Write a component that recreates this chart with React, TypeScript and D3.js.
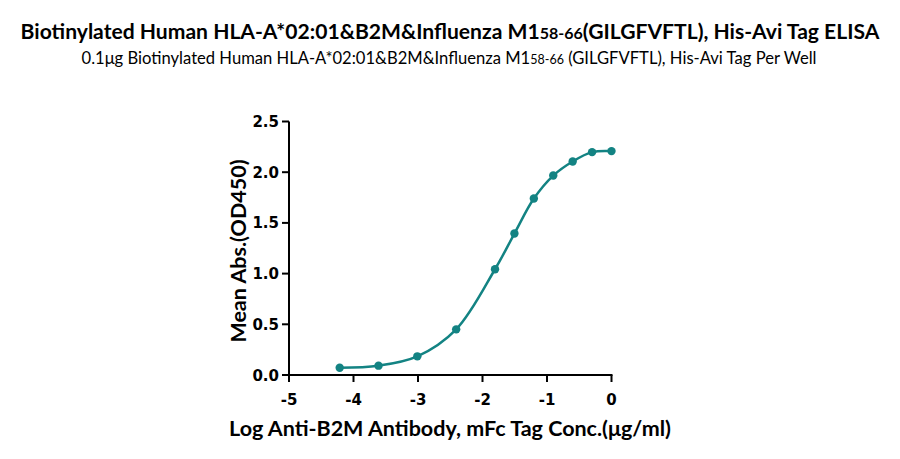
import React from "react";
import * as d3 from "d3";

const logConc = [-4.214, -3.612, -3.01, -2.408, -1.806, -1.505, -1.204, -0.903, -0.602, -0.301, 0];
const meanAbs = [0.072, 0.092, 0.184, 0.45, 1.043, 1.395, 1.74, 1.967, 2.106, 2.198, 2.208];
const xTicks = [-5, -4, -3, -2, -1, 0];
const yTicks = [0, 0.5, 1.0, 1.5, 2.0, 2.5];

const W = 900;
const H = 459;
const color = "#138383";

export default function App() {
  const x = d3.scaleLinear().domain([-5, 0]).range([289, 611.5]);
  const y = d3.scaleLinear().domain([0, 2.5]).range([375, 121.5]);
  const pts = logConc.map((v, i) => [x(v), y(meanAbs[i])] as [number, number]);
  const line = d3.line().curve(d3.curveCatmullRom.alpha(0.5))(pts) || "";
  const font = "Lato, 'Open Sans', sans-serif";
  const tickFont = "'DejaVu Sans', sans-serif";
  return (
    <svg width={W} height={H} style={{ position: "absolute", left: 0, top: 0, background: "#fff" }}>
      <text x={450} y={39} textAnchor="middle" fontFamily={font} fontWeight="bold" fontSize={21.1} fill="#000">
        Biotinylated Human HLA-A*02:01&amp;B2M&amp;Influenza M1
        <tspan fontSize={16}>58-66</tspan>(GILGFVFTL), His-Avi Tag ELISA
      </text>
      <text x={449} y={64} textAnchor="middle" fontFamily={font} fontSize={16.6} fill="#000">
        0.1μg Biotinylated Human HLA-A*02:01&amp;B2M&amp;Influenza M1
        <tspan fontSize={12.5}>58-66</tspan> (GILGFVFTL), His-Avi Tag Per Well
      </text>
      {/* axes */}
      <line x1={289} x2={289} y1={y(2.5)} y2={y(0)} stroke="#000" strokeWidth={2} />
      <line x1={288} x2={x(0) + 1} y1={y(0)} y2={y(0)} stroke="#000" strokeWidth={2} />
      {yTicks.map((t) => (
        <g key={"y" + t}>
          <line x1={282} x2={289} y1={y(t)} y2={y(t)} stroke="#000" strokeWidth={2} />
          <text x={279} y={y(t) + 5.5} textAnchor="end" fontFamily={tickFont} fontWeight="bold" fontSize={15}>
            {t.toFixed(1)}
          </text>
        </g>
      ))}
      {xTicks.map((t) => (
        <g key={"x" + t}>
          <line x1={x(t)} x2={x(t)} y1={y(0)} y2={y(0) + 7} stroke="#000" strokeWidth={2} />
          <text x={x(t)} y={404.5} textAnchor="middle" fontFamily={tickFont} fontWeight="bold" fontSize={15}>
            {t === 0 ? "0" : "-" + Math.abs(t)}
          </text>
        </g>
      ))}
      <text x={450} y={436} textAnchor="middle" fontFamily={font} fontWeight="bold" fontSize={21.5}>
        Log Anti-B2M Antibody, mFc Tag Conc.(μg/ml)
      </text>
      <text
        transform={`translate(246, 251) rotate(-90)`}
        textAnchor="middle"
        fontFamily={font}
        fontWeight="bold"
        fontSize={21.5}
      >
        Mean Abs.(OD450)
      </text>
      <path d={line} fill="none" stroke={color} strokeWidth={2.5} />
      {pts.map((p, i) => (
        <circle key={i} cx={p[0]} cy={p[1]} r={4.2} fill={color} />
      ))}
    </svg>
  );
}
